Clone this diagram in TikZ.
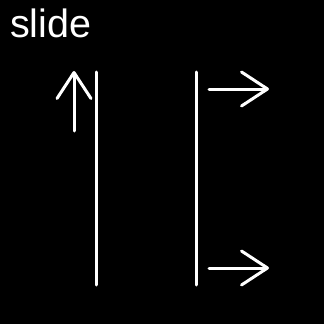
\documentclass[tikz,border=0pt]{standalone}
\usepackage{fontspec}
\setmainfont{Liberation Sans}
\usetikzlibrary{arrows.meta}
\begin{document}
\begin{tikzpicture}[x=1pt,y=-1pt,
  wline/.style={draw=white,line width=3pt,line cap=round},
  warrow/.style={wline,-{Straight Barb[length=26pt,width=34pt,line cap=round,line join=round]}},
  lbl/.style={text=white,font=\fontsize{39.5}{44}\selectfont,inner sep=0pt,anchor=base west}]
\fill[black] (0,0) rectangle (324,324);
\useasboundingbox (0,0) rectangle (324,324);
\node[lbl] (title) at (10,37.5) {slide};
\coordinate (l1t) at (96,72);
\coordinate (l1b) at (96,285);
\coordinate (l2t) at (196,72);
\coordinate (l2b) at (196,285);
\coordinate (ua) at (74,131);
\coordinate (ub) at (74,71);
\coordinate (r1a) at (209,89);
\coordinate (r1b) at (269,89);
\coordinate (r2a) at (209,268);
\coordinate (r2b) at (269,268);
\draw[wline] (l1t) -- (l1b);
\draw[wline] (l2t) -- (l2b);
\draw[warrow] (ua) -- (ub);
\draw[warrow] (r1a) -- (r1b);
\draw[warrow] (r2a) -- (r2b);
\end{tikzpicture}
\end{document}
